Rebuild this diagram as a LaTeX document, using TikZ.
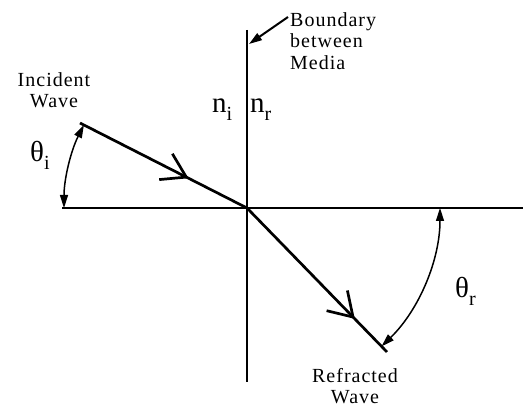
\documentclass[tikz,border=0pt]{standalone}
\usepackage{fontspec}
\setmainfont{Liberation Serif}
\newfontfamily\lblfont[LetterSpace=5]{Liberation Serif}
\usetikzlibrary{arrows.meta,angles,decorations.markings}

\newcommand{\lowsub}[1]{\raisebox{-8pt}{\fontsize{20}{20}\selectfont #1}}

\begin{document}
\begin{tikzpicture}[
        x=1pt, y=1pt,
        chev/.tip={Straight Barb[length=23pt,width=29pt]},
        axis/.style={line width=2.7pt},
        wave/.style={line width=2.7pt, postaction={decorate}},
        lbl/.style={font=\lblfont\fontsize{20}{21.5}\selectfont, inner sep=0pt, align=center},
        sym/.style={font=\fontsize{29}{29}\selectfont, inner sep=0pt, anchor=base west},
        angarr/.style={draw, line width=1.5pt, {Triangle[length=13pt,width=8pt]}-{Triangle[length=13pt,width=8pt]}},
        ptr/.style={-{Triangle[length=13pt,width=8pt]}, line width=2pt},
    ]
    \useasboundingbox (0,0) rectangle (523,415);

    % Boundary and normal
    \coordinate (O) at (247,207);
    \coordinate (top) at (247,385);
    \coordinate (bot) at (247,33);
    \coordinate (hl) at (62,207);
    \coordinate (hr) at (523,207);
    \draw[axis] (top) -- (bot);
    \draw[axis] (hl) -- (hr);

    % Incident and refracted waves
    \coordinate (inc) at (80,292);
    \coordinate (refr) at (387,63);
    \draw[wave, decoration={markings, mark=at position 0.65 with {\arrow{chev}}}] (inc) -- (O);
    \draw[wave, decoration={markings, mark=at position 0.77 with {\arrow{chev}}}] (O) -- (refr);

    % Angles
    \pic[angarr, angle radius=183pt] {angle=inc--O--hl};
    \pic[angarr, angle radius=193pt] {angle=refr--O--hr};

    % Labels
    \node[lbl, anchor=north] (incl) at (54,343) {Incident\\Wave};
    \node[lbl, anchor=north west, align=left] (bndl) at (290,403) {Boundary\\between\\Media};
    \node[lbl, anchor=north] (refl) at (355,47) {Refracted\\Wave};
    \node[sym] (thi) at (30,253) {θ\lowsub{i}};
    \node[sym] (thr) at (455,117) {θ\lowsub{r}};
    \node[sym] (ni) at (212,302) {n\lowsub{i}};
    \node[sym] (nr) at (250,302) {n\lowsub{r}};

    % Pointer to boundary
    \coordinate (bndtail) at (288,398);
    \coordinate (bnd) at (249,371);
    \draw[ptr] (bndtail) -- (bnd);
\end{tikzpicture}
\end{document}
